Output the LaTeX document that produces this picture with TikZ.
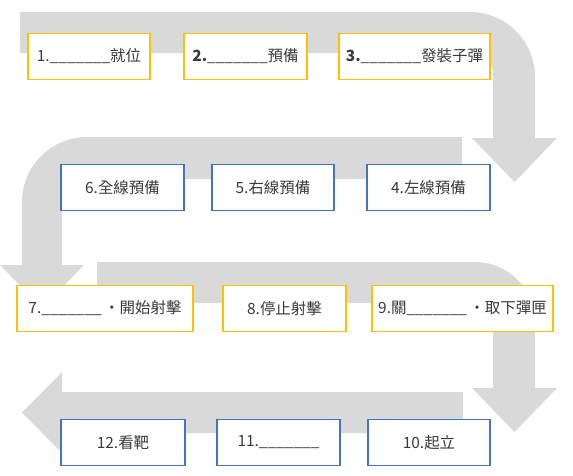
\documentclass[tikz,border=0pt]{standalone}
\usepackage{fontspec}
\setmainfont{Noto Sans CJK TC}
\definecolor{cband}{HTML}{D9D9D9}
\definecolor{cyellow}{HTML}{FFC000}
\definecolor{cblue}{HTML}{4472C4}
\definecolor{ctext}{HTML}{3A3A3A}
\tikzset{
  every picture/.style={font=\fontsize{11.6pt}{13.5pt}\selectfont},
  band/.style={fill=cband},
  card/.style={draw=#1, fill=white, line width=0.9pt, inner sep=0pt, minimum height=35pt, text=ctext},
  card/.default=cblue,
}
\newcommand{\blank}{\_\_\_\_\_\_\_}
\newcommand{\midsep}{\hspace{0.15em}·}
\begin{document}
\begin{tikzpicture}[x=0.75pt, y=-0.75pt]
  \useasboundingbox (0,0) rectangle (573,475);
  % snake of grey arrows behind the steps (pixel grid, y down)
  \fill[band] (20,12) -- (470,12) arc[start angle=-90, end angle=0, radius=65] -- (535,138) -- (557,138) -- (514.5,182) -- (472,138) -- (493,138) -- (493,73) arc[start angle=0, end angle=-90, radius=20] -- (20,53) -- cycle;
  \fill[band] (462,137) -- (87,137) arc[start angle=-90, end angle=-180, radius=65] -- (22,265) -- (0,265) -- (42,308) -- (84,265) -- (62,265) -- (62,199) arc[start angle=180, end angle=270, radius=20] -- (462,179) -- cycle;
  \fill[band] (97,262) -- (475,262) arc[start angle=-90, end angle=0, radius=60] -- (535,388) -- (557,388) -- (514.5,432) -- (472,388) -- (493,388) -- (493,323) arc[start angle=0, end angle=-90, radius=20] -- (97,303) -- cycle;
  \fill[band] (463,392) -- (62,392) -- (62,372) -- (22,412.5) -- (62,453) -- (62,433) -- (463,433) -- cycle;
  % row 1
  \node[card=cyellow, minimum width=91.5pt]   (s1) at (89,56.5)    {1.\blank 就位};
  \node[card=cyellow, minimum width=92.25pt]  (s2) at (245.5,56.5) {\textbf{2.}\blank 預備};
  \node[card=cyellow, minimum width=113.25pt] (s3) at (414.5,56.5) {\textbf{3.}\blank 發裝子彈};
  % row 2
  \node[card, minimum width=92.25pt] (s6) at (122.5,187.5) {6.全線預備};
  \node[card, minimum width=91.5pt]  (s5) at (273,187.5)   {5.右線預備};
  \node[card, minimum width=92.25pt] (s4) at (428.5,187.5) {4.左線預備};
  % row 3
  \node[card=cyellow, minimum width=132pt]    (s7) at (105,308.5)   {7.\blank\midsep 開始射擊};
  \node[card=cyellow, minimum width=92.25pt]  (s8) at (284.5,308.5) {8.停止射擊};
  \node[card=cyellow, minimum width=135.75pt] (s9) at (462.5,308.5) {9.關\blank\midsep 取下彈匣};
  % row 4
  \node[card, minimum width=93pt]    (s12) at (123,442.5)   {12.看靶};
  \node[card, minimum width=92.25pt] (s11) at (278.5,442.5) {11.\blank};
  \node[card, minimum width=91.5pt]  (s10) at (429,442.5)   {10.起立};
\end{tikzpicture}
\end{document}
